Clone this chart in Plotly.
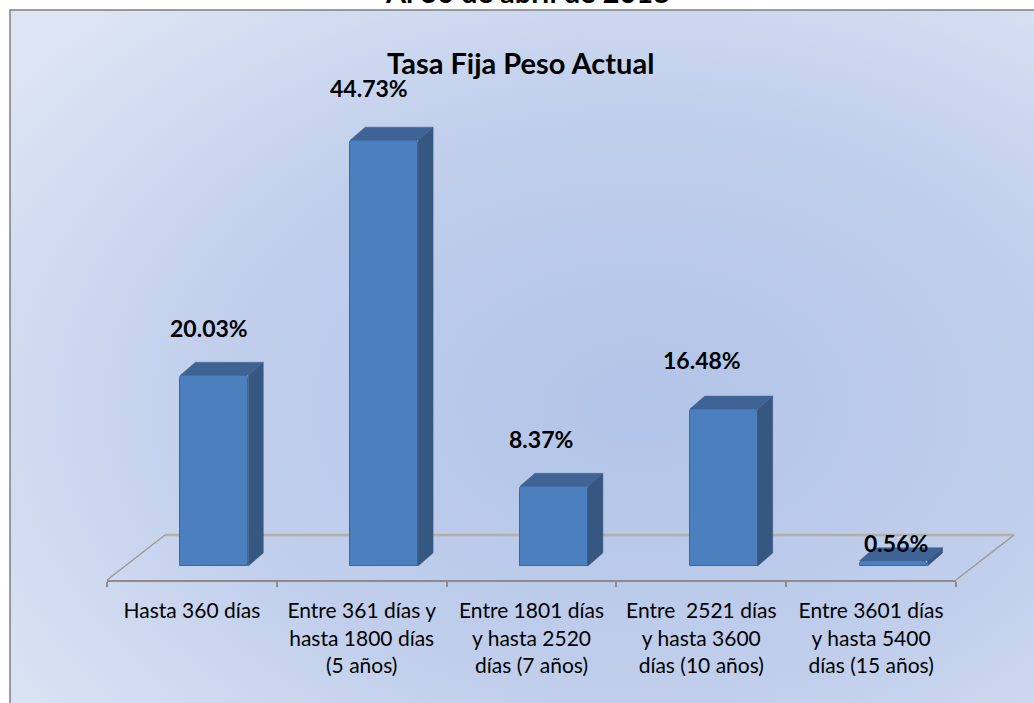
import base64
import plotly.graph_objects as go

# ---------------- data ----------------
categories = [
    "Hasta 360 días",
    "Entre 361 días y<br>hasta 1800 días<br>(5 años)",
    "Entre 1801 días<br>y hasta 2520<br>días (7 años)",
    "Entre\u00a0 2521 días<br>y hasta 3600<br>días (10 años)",
    "Entre 3601 días<br>y hasta 5400<br>días (15 años)",
]
values = [20.03, 44.73, 8.37, 16.48, 0.56]
value_labels = [f"{v:.2f}%" for v in values]
title_top = "Al 30 de abril de 2018"
title_chart = "Tasa Fija Peso Actual"

# ---------------- geometry (layout only) ----------------
W, H = 1034, 703
ML, MR, MT, MB = 107, 78, 100, 123
PW = W - ML - MR
PH = H - MT - MB
X_RANGE = [-0.5, 4.5]
Y_RANGE = [-1.47, 48.95]
UX = PW / (X_RANGE[1] - X_RANGE[0])   # px per category unit
UY = PH / (Y_RANGE[1] - Y_RANGE[0])   # px per percent

BAR_OFF = -0.068
BAR_W = 0.40
DX = 15 / UX          # 3D depth of bars (x)
DY = 13 / UY          # 3D depth of bars (y)
FLOOR_DEPTH_PX = (58, 45)

LABEL_DX = [-5, -15, -13, -22, 2]
LABEL_DY = [47, 52, 47, 49, 18]

FONT = "Lato, 'Open Sans', Arial, sans-serif"
FRONT = "#4b7fbd"
SIDE = "#36577f"
TOP = "#3e6394"


def pxx(px):
    """screen x (pixels) -> paper x"""
    return (px - ML) / PW


def pxy(py):
    """screen y (pixels) -> paper y"""
    return (H - MB - py) / PH


x_idx = list(range(len(categories)))

fig = go.Figure()

# side and top faces of each bar (3D look)
for i, v in zip(x_idx, values):
    x0 = i + BAR_OFF
    x1 = x0 + BAR_W
    fig.add_trace(go.Scatter(
        x=[x1, x1 + DX, x1 + DX, x1, x1],
        y=[0, DY, v + DY, v, 0],
        fill="toself", fillcolor=SIDE, mode="lines",
        line=dict(width=0.5, color=SIDE), hoverinfo="skip", showlegend=False))
    fig.add_trace(go.Scatter(
        x=[x0, x1, x1 + DX, x0 + DX, x0],
        y=[v, v, v + DY, v + DY, v],
        fill="toself", fillcolor=TOP, mode="lines",
        line=dict(width=0.5, color=TOP), hoverinfo="skip", showlegend=False))

# front faces
fig.add_trace(go.Bar(
    x=x_idx, y=values, width=BAR_W, offset=BAR_OFF,
    marker=dict(color=FRONT, line=dict(color="#3d679c", width=1), cornerradius=4),
    hoverinfo="skip", showlegend=False))

# value labels
annotations = []
for i, (v, t) in enumerate(zip(values, value_labels)):
    annotations.append(dict(
        x=i + BAR_OFF + BAR_W / 2, y=v, xref="x", yref="y", text=t,
        showarrow=False, xshift=LABEL_DX[i], yshift=LABEL_DY[i],
        font=dict(family=FONT, size=23, color="black", weight="bold")))

annotations.append(dict(
    x=pxx(527), y=pxy(-9), xref="paper", yref="paper", text=title_top,
    showarrow=False, yanchor="middle",
    font=dict(family=FONT, size=29, color="black", weight="bold")))
annotations.append(dict(
    x=pxx(520), y=pxy(62), xref="paper", yref="paper", text=title_chart,
    showarrow=False, yanchor="middle",
    font=dict(family=FONT, size=29, color="black", weight="bold")))

# background gradient as an SVG image
svg = (
    '<svg xmlns="http://www.w3.org/2000/svg" width="1040" height="700" '
    'viewBox="0 0 1040 700" preserveAspectRatio="none">'
    '<defs><radialGradient id="g" cx="0.6" cy="0.55" r="0.75">'
    '<stop offset="0" stop-color="#b2c4e8"/>'
    '<stop offset="0.55" stop-color="#c1cfec"/>'
    '<stop offset="1" stop-color="#dde5f4"/>'
    '</radialGradient></defs>'
    '<rect width="1040" height="700" fill="url(#g)"/></svg>'
)
bg_src = "data:image/svg+xml;base64," + base64.b64encode(svg.encode()).decode()

# floor parallelogram (screen pixels)
fx0, fx1, fy = ML, ML + PW, H - MB
ddx, ddy = FLOOR_DEPTH_PX
shapes = [
    # back edge
    dict(type="line", xref="paper", yref="paper",
         x0=pxx(fx0 + ddx), y0=pxy(fy - ddy), x1=pxx(fx1 + ddx), y1=pxy(fy - ddy),
         line=dict(color="#b4b1a8", width=2.5), layer="below"),
    # side edges
    dict(type="line", xref="paper", yref="paper",
         x0=pxx(fx0), y0=pxy(fy), x1=pxx(fx0 + ddx), y1=pxy(fy - ddy),
         line=dict(color="#9a9a9a", width=1.5), layer="below"),
    dict(type="line", xref="paper", yref="paper",
         x0=pxx(fx1), y0=pxy(fy), x1=pxx(fx1 + ddx), y1=pxy(fy - ddy),
         line=dict(color="#9a9a9a", width=1.5), layer="below"),
    # chart area border
    dict(type="rect", xref="paper", yref="paper",
         x0=pxx(10), y0=pxy(10), x1=pxx(1060), y1=pxy(730),
         line=dict(color="#7f7f7f", width=1.5), fillcolor="rgba(0,0,0,0)", layer="above"),
]

fig.update_layout(
    width=W, height=H,
    margin=dict(l=ML, r=MR, t=MT, b=MB, autoexpand=False),
    paper_bgcolor="white", plot_bgcolor="rgba(0,0,0,0)",
    images=[dict(source=bg_src, xref="paper", yref="paper",
                 x=pxx(10), y=pxy(10), sizex=(1060 - 10) / PW, sizey=(730 - 10) / PH,
                 xanchor="left", yanchor="top", sizing="stretch", layer="below")],
    shapes=shapes,
    annotations=annotations,
    bargap=0,
    hovermode=False,
    xaxis=dict(
        range=X_RANGE, tickmode="array", tickvals=x_idx, ticktext=categories,
        showgrid=False, zeroline=False, showline=True, linecolor="#8c8c8c", linewidth=2,
        ticks="outside", ticklen=1, tickcolor="rgba(0,0,0,0)",
        ticklabelstandoff=10,
        tickfont=dict(family=FONT, size=21, color="black"),
        minor=dict(tickmode="array", tickvals=[i - 0.5 for i in range(len(categories) + 1)],
                   ticks="outside", ticklen=5, tickwidth=2, tickcolor="#8c8c8c", showgrid=False),
        fixedrange=True,
    ),
    yaxis=dict(range=Y_RANGE, visible=False, fixedrange=True),
    font=dict(family=FONT),
)

fig.write_html("out.html", config={"displayModeBar": False},
               post_script="document.body.style.margin='0';")
